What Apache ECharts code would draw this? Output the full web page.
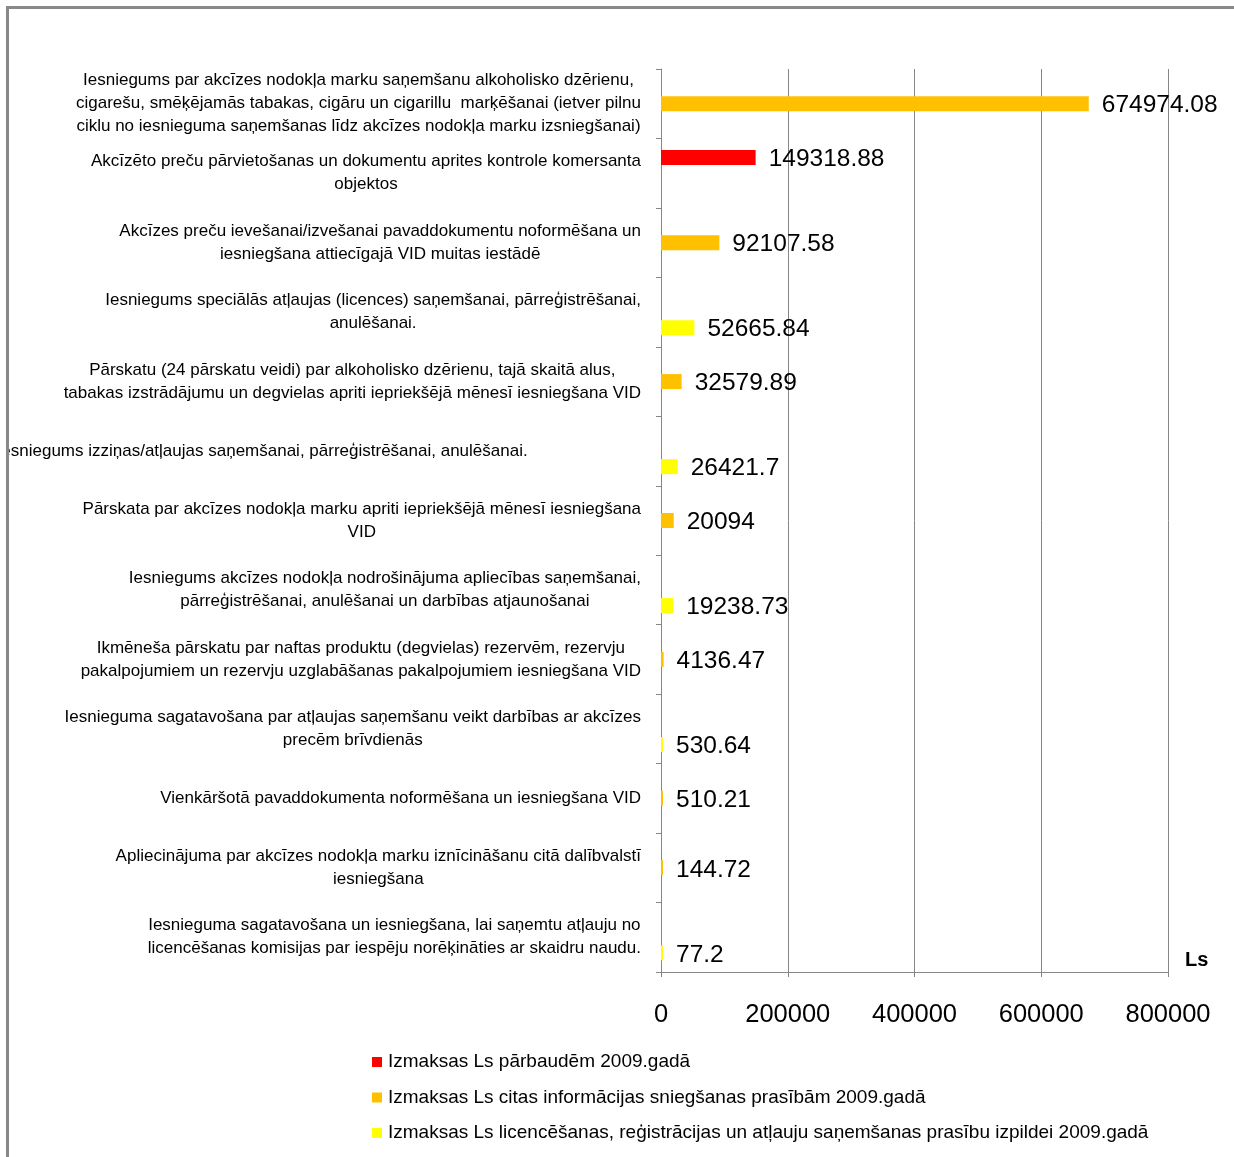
<!DOCTYPE html>
<html>
<head>
<meta charset="utf-8">
<script src="https://cdn.jsdelivr.net/npm/echarts@6/dist/echarts.min.js"></script>
<style>
html,body{margin:0;padding:0;background:#fff;}
#c{width:1234px;height:1157px;}
</style>
</head>
<body>
<div id="c"></div>
<script>
const categories = [
  "Iesniegums par akcīzes nodokļa marku saņemšanu alkoholisko dzērienu,\ncigarešu, smēķējamās tabakas, cigāru un cigarillu  marķēšanai (ietver pilnu\nciklu no iesnieguma saņemšanas līdz akcīzes nodokļa marku izsniegšanai)",
  "Akcīzēto preču pārvietošanas un dokumentu aprites kontrole komersanta\nobjektos",
  "Akcīzes preču ievešanai/izvešanai pavaddokumentu noformēšana un\niesniegšana attiecīgajā VID muitas iestādē",
  "Iesniegums speciālās atļaujas (licences) saņemšanai, pārreģistrēšanai,\nanulēšanai.",
  "Pārskatu (24 pārskatu veidi) par alkoholisko dzērienu, tajā skaitā alus,\ntabakas izstrādājumu un degvielas apriti iepriekšējā mēnesī iesniegšana VID",
  "Iesniegums izziņas/atļaujas saņemšanai, pārreģistrēšanai, anulēšanai.\u00a0\u00a0\u00a0\u00a0\u00a0\u00a0\u00a0\u00a0\u00a0\u00a0\u00a0\u00a0\u00a0\u00a0\u00a0\u00a0\u00a0\u00a0\u00a0\u00a0\u00a0\u00a0\u00a0\u00a0",
  "Pārskata par akcīzes nodokļa marku apriti iepriekšējā mēnesī iesniegšana\nVID",
  "Iesniegums akcīzes nodokļa nodrošinājuma apliecības saņemšanai,\npārreģistrēšanai, anulēšanai un darbības atjaunošanai",
  "Ikmēneša pārskatu par naftas produktu (degvielas) rezervēm, rezervju\npakalpojumiem un rezervju uzglabāšanas pakalpojumiem iesniegšana VID",
  "Iesnieguma sagatavošana par atļaujas saņemšanu veikt darbības ar akcīzes\nprecēm brīvdienās",
  "Vienkāršotā pavaddokumenta noformēšana un iesniegšana VID",
  "Apliecinājuma par akcīzes nodokļa marku iznīcināšanu citā dalībvalstī\niesniegšana",
  "Iesnieguma sagatavošana un iesniegšana, lai saņemtu atļauju no\nlicencēšanas komisijas par iespēju norēķināties ar skaidru naudu."
];
const seriesNames = [
  "Izmaksas Ls pārbaudēm 2009.gadā",
  "Izmaksas Ls citas informācijas sniegšanas prasībām 2009.gadā",
  "Izmaksas Ls licencēšanas, reģistrācijas un atļauju saņemšanas prasību izpildei 2009.gadā"
];
const redValues    = [null, 149318.88, null, null, null, null, null, null, null, null, null, null, null];
const orangeValues = [674974.08, null, 92107.58, null, 32579.89, null, 20094, null, 4136.47, null, 510.21, 144.72, null];
const yellowValues = [null, null, null, 52665.84, null, 26421.7, null, 19238.73, null, 530.64, null, null, 77.2];
const xTicks = [0, 200000, 400000, 600000, 800000];
const axisName = "Ls";

const FONT = "'Liberation Sans', Arial, sans-serif";
const GRAY = "#868686";
const colors = ["#FF0000", "#FFC000", "#FFFF00"];
const valuesList = [redValues, orangeValues, yellowValues];

const chart = echarts.init(document.getElementById('c'), null, {renderer: 'canvas'});

const series = valuesList.map((vals, i) => ({
  name: seriesNames[i],
  type: 'bar',
  data: vals,
  barWidth: 15,
  barGap: '4%',
  barMinHeight: 2,
  itemStyle: {color: colors[i]},
  label: {
    show: true,
    position: 'right',
    distance: 13,
    offset: [0, 2],
    fontFamily: FONT,
    fontSize: 24.5,
    color: '#000',
    formatter: p => String(p.value)
  },
  emphasis: {disabled: true}
}));

chart.setOption({
  animation: false,
  backgroundColor: '#fff',
  grid: {left: 661, right: 66, top: 69, bottom: 185, containLabel: false, outerBoundsMode: 'none'},
  xAxis: {
    type: 'value',
    min: xTicks[0],
    max: xTicks[xTicks.length - 1],
    interval: xTicks[1] - xTicks[0],
    name: axisName,
    nameLocation: 'end',
    nameGap: 17,
    nameTextStyle: {fontFamily: FONT, fontSize: 20, fontWeight: 'bold', color: '#000', verticalAlign: 'bottom', padding: [0, 0, 2, 0]},
    axisLine: {show: true, lineStyle: {color: GRAY, width: 1}},
    axisTick: {show: true, length: 5, lineStyle: {color: GRAY}},
    splitLine: {show: true, lineStyle: {color: GRAY, width: 1}},
    axisLabel: {fontFamily: FONT, fontSize: 25.5, color: '#000', margin: 30, formatter: v => String(v)}
  },
  yAxis: {
    type: 'category',
    inverse: true,
    data: categories,
    axisLine: {show: true, lineStyle: {color: GRAY, width: 1}},
    axisTick: {show: true, length: 5, lineStyle: {color: GRAY}},
    splitLine: {show: false},
    axisLabel: {
      interval: 0,
      margin: 20,
      formatter: v => v.split('\n').map(l => '{c|' + l + '}').join('\n'),
      rich: {c: {align: 'center', fontFamily: FONT, fontSize: 17, lineHeight: 23, color: '#000'}}
    }
  },
  legend: {
    orient: 'vertical',
    left: 372,
    top: 1052,
    padding: 0,
    icon: 'rect',
    itemWidth: 10,
    itemHeight: 10,
    itemGap: 15.5,
    data: seriesNames,
    textStyle: {fontFamily: FONT, fontSize: 19, lineHeight: 20, color: '#000', padding: [0, 0, 0, 1]},
    selectedMode: false
  },
  graphic: [
    {type: 'rect', silent: true, z: 100, shape: {x: 0, y: 0, width: 7, height: 1157}, style: {fill: '#fff'}},
    {type: 'rect', silent: true, z: 100, shape: {x: 7.5, y: 7.5, width: 1400, height: 1400}, style: {fill: null, stroke: '#898989', lineWidth: 3}}
  ],
  series: series
});
</script>
</body>
</html>
